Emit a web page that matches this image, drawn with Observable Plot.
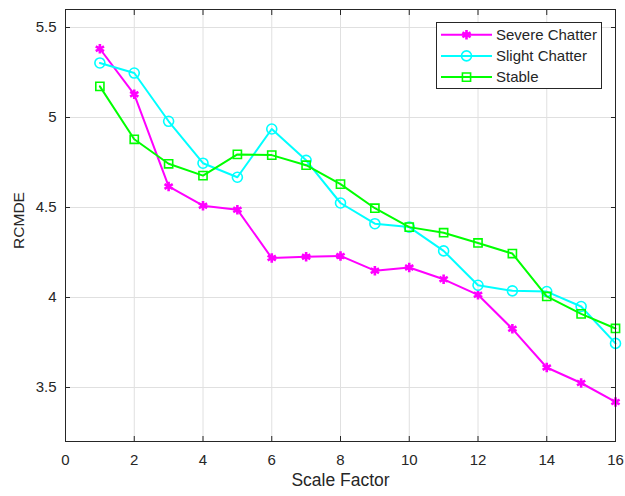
<!DOCTYPE html>
<html>
<head>
<meta charset="utf-8">
<script src="https://cdn.jsdelivr.net/npm/d3@7"></script>
<script src="https://cdn.jsdelivr.net/npm/@observablehq/plot@0.6"></script>
<style>
  html, body { margin: 0; padding: 0; background: #fff; }
  #wrap { position: relative; width: 625px; height: 496px; }
  #legend { position: absolute; left: 436px; top: 22px; }
</style>
</head>
<body>
<div id="wrap"></div>
<script>
const scaleFactor = [1, 2, 3, 4, 5, 6, 7, 8, 9, 10, 11, 12, 13, 14, 15, 16];
const severe = [5.382, 5.129, 4.617, 4.510, 4.488, 4.219, 4.226, 4.231, 4.149, 4.167, 4.101, 4.015, 3.826, 3.611, 3.525, 3.420];
const slight = [5.303, 5.247, 4.979, 4.746, 4.668, 4.936, 4.762, 4.525, 4.410, 4.391, 4.259, 4.068, 4.037, 4.033, 3.950, 3.745];
const stable = [5.173, 4.879, 4.743, 4.677, 4.795, 4.791, 4.735, 4.630, 4.496, 4.391, 4.360, 4.303, 4.244, 4.006, 3.909, 3.828];
const xTicks = [0, 2, 4, 6, 8, 10, 12, 14, 16];
const yTicks = [3.5, 4, 4.5, 5, 5.5];
const seriesNames = ["Severe Chatter", "Slight Chatter", "Stable"];
const seriesColors = ["#ff00ff", "#00ffff", "#00ff00"];
const seriesSymbols = ["asterisk", "circle", "square"];
const xLabel = "Scale Factor";
const yLabel = "RCMDE";

const seriesValues = [severe, slight, stable];
const rows = seriesValues.map(vals => scaleFactor.map((x, i) => ({x, y: vals[i]})));

const axisColor = "#262626";
const gridColor = "#e0e0e0";
const font = "'Liberation Sans', Arial, Helvetica, sans-serif";

const symbolR = [4.5, 5, 4.6];
const symbolW = [2.6, 1.6, 1.6];

const marks = [
  Plot.gridX(xTicks, {stroke: gridColor, strokeOpacity: 1}),
  Plot.gridY(yTicks, {stroke: gridColor, strokeOpacity: 1}),
];
rows.forEach((data, k) => {
  marks.push(Plot.line(data, {x: "x", y: "y", stroke: seriesColors[k], strokeWidth: 2}));
  marks.push(Plot.dot(data, {x: "x", y: "y", symbol: () => seriesSymbols[k], r: symbolR[k], stroke: seriesColors[k], strokeWidth: symbolW[k], fill: "none"}));
});
const fmt = d3.format("~g");
marks.push(
  Plot.frame({stroke: axisColor, strokeWidth: 1}),
  Plot.axisX(xTicks, {anchor: "bottom", tickSize: 0, tickPadding: 13, label: null, fontSize: 15, fill: axisColor, tickFormat: fmt}),
  Plot.axisX(xTicks, {anchor: "bottom", tickSize: -5, text: null, label: null, stroke: axisColor}),
  Plot.axisX(xTicks, {anchor: "top", tickSize: -5, text: null, label: null, stroke: axisColor}),
  Plot.axisY(yTicks, {anchor: "left", tickSize: 0, tickPadding: 9, label: null, fontSize: 15, fill: axisColor, tickFormat: fmt}),
  Plot.axisY(yTicks, {anchor: "left", tickSize: -5, text: null, label: null, stroke: axisColor}),
  Plot.axisY(yTicks, {anchor: "right", tickSize: -5, text: null, label: null, stroke: axisColor}),
  Plot.text([xLabel], {frameAnchor: "bottom", dy: 44, text: d => d, fontSize: 17.5, fill: axisColor}),
  Plot.text([yLabel], {frameAnchor: "left", textAnchor: "middle", dx: -46, dy: -5, rotate: -90, text: d => d, fontSize: 15.5, fill: axisColor})
);

const chart = Plot.plot({
  width: 625,
  height: 496,
  marginLeft: 65,
  marginRight: 10,
  marginTop: 9,
  marginBottom: 55,
  style: {fontFamily: font, fontSize: "15px", background: "#fff", color: axisColor},
  x: {domain: [0, 16]},
  y: {domain: [3.2, 5.6]},
  symbol: {type: "identity"},
  marks
});
const wrap = document.getElementById("wrap");
wrap.appendChild(chart);

// Legend overlay
const lw = 166, lh = 67;
const legend = d3.create("svg")
  .attr("id", "legend")
  .attr("width", lw)
  .attr("height", lh)
  .style("font-family", font)
  .style("font-size", "15px");
legend.append("rect").attr("x", 0.5).attr("y", 0.5).attr("width", lw - 1).attr("height", lh - 1)
  .attr("fill", "#fff").attr("stroke", axisColor).attr("stroke-width", 1);
const symbolMap = {asterisk: d3.symbolAsterisk, circle: d3.symbolCircle, square: d3.symbolSquare};
seriesNames.forEach((name, k) => {
  const cy = 12.7 + k * 21.2;
  const g = legend.append("g");
  g.append("line").attr("x1", 5).attr("x2", 56).attr("y1", cy).attr("y2", cy)
    .attr("stroke", seriesColors[k]).attr("stroke-width", 2);
  g.append("path").attr("transform", `translate(30.5,${cy})`)
    .attr("d", d3.symbol(symbolMap[seriesSymbols[k]], symbolR[k] * symbolR[k] * Math.PI)())
    .attr("fill", "none").attr("stroke", seriesColors[k]).attr("stroke-width", symbolW[k]);
  g.append("text").attr("x", 60).attr("y", cy).attr("dy", "0.35em").attr("fill", axisColor).text(name);
});
wrap.appendChild(legend.node());
</script>
</body>
</html>
